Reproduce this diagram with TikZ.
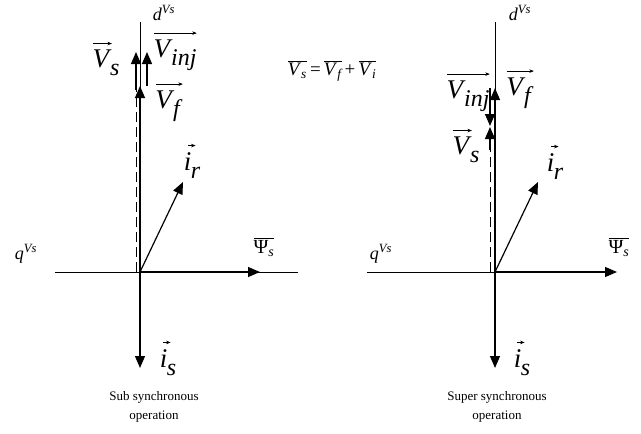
\RequirePackage{fix-cm}
\documentclass[tikz,border=0pt]{standalone}
\usepackage{amsmath}
\usepackage{fontspec}
\setmainfont{Liberation Serif}
\usetikzlibrary{arrows.meta}
\newlength\arrw
\newcommand{\ti}[1]{\textit{#1}}
% arrow over content (text mode)
\newcommand{\ovarr}[2][0pt]{\setbox0\hbox{#2}\setlength\arrw{\wd0}%
  \vbox{\offinterlineskip\hbox to\arrw{\kern#1\rlap{\tikz[x=1pt,y=1pt]\draw[line width=0.6pt,-{Stealth[length=4.5pt,width=3.5pt]}] (0,0)--(\arrw,0);}\hss}\kern5pt\box0}}
\newcommand{\ovline}[1]{\setbox0\hbox{#1}\setlength\arrw{\wd0}%
  \vbox{\offinterlineskip\hbox{\vrule height 0.6pt width \arrw}\kern2pt\box0}}
% large lowered subscript
\newcommand{\sub}[2][-1.5pt]{\kern#1\raisebox{-8pt}{\fontsize{24}{26}\selectfont\ti{#2}}}
\tikzset{
  axis/.style={line width=0.8pt},
  vec/.style={line width=1.2pt,-{Triangle[length=12pt,width=10pt]}},
  dsh/.style={line width=0.8pt,dash pattern=on 10pt off 5pt},
  big/.style={font=\fontsize{27}{29}\selectfont,inner sep=0pt},
  mid/.style={font=\fontsize{20}{22}\selectfont,inner sep=0pt},
  small/.style={font=\fontsize{18}{20}\selectfont,inner sep=0pt},
  captext/.style={font=\fontsize{13}{19}\selectfont,align=center,inner sep=0pt}
}
\begin{document}
\begin{tikzpicture}[x=1pt,y=-1pt]
\useasboundingbox (0,0) rectangle (641,434);
% ---------- left diagram ----------
\coordinate (O1) at (140,272);
\coordinate (dT1) at (140,22);
\coordinate (qL1) at (55,272);
\coordinate (qR1) at (298,272);
\coordinate (Ps1) at (260,272);
\coordinate (Is1) at (140,368);
\coordinate (Ir1) at (183,182);
\coordinate (Vf1) at (140,86);
\coordinate (Vi1a) at (147,86);
\coordinate (Vi1b) at (147,52);
\coordinate (Vs1a) at (136,272);
\coordinate (Vs1m) at (136,90);
\coordinate (Vs1b) at (136,52);
\draw[axis] (qL1) -- (qR1);
\draw[axis] (O1) -- (dT1);
\draw[dsh] (Vs1a) -- (Vs1m);
\draw[vec] (Vs1m) -- (Vs1b);
\draw[vec] (O1) -- (Vf1);
\draw[vec] (Vi1a) -- (Vi1b);
\draw[vec] (O1) -- (Ps1);
\draw[vec] (O1) -- (Ir1);
\draw[vec] (O1) -- (Is1);
\node[small] (d1) at (164,13) {\ti{d}$^{\ti{Vs}}$};
\node[small] (q1) at (26,254) {\ti{q}$^{\ti{Vs}}$};
\node[big] (lVs1) at (106,59) {\ovarr{\ti{V}}\sub{s}};
\node[big] (lVi1) at (175,51) {\ovarr{\ti{V}\sub{inj}}};
\node[big] (lVf1) at (169,102) {\ovarr{\ti{V}\sub{f}}};
\node[big] (lIr1) at (192,161) {\ovarr[4pt]{\ti{i}}\sub[-0.5pt]{r}};
\node[mid] (lPs1) at (264,247) {\ovline{Ψ$_{\ti{s}}$}};
\node[big] (lIs1) at (168,358) {\ovarr[3pt]{\ti{i}}\sub[-0.5pt]{s}};
\node[captext] (t1) at (154,407) {Sub synchronous\\operation};
% ---------- formula ----------
\node[font=\fontsize{19}{20}\selectfont,inner sep=0pt] (eq) at (332,71)
  {\ovline{\ti{V}$_{\ti{s}}$}\,=\,\ovline{\ti{V}$_{\ti{f}}$}\,+\,\ovline{\ti{V}$_{\ti{i}}$}};
% ---------- right diagram ----------
\coordinate (O2) at (495,272);
\coordinate (dT2) at (495,22);
\coordinate (qL2) at (367,272);
\coordinate (Ps2) at (617,272);
\coordinate (Is2) at (495,368);
\coordinate (Ir2) at (538,182);
\coordinate (Vf2) at (495,88);
\coordinate (Vi2a) at (490,88);
\coordinate (Vi2b) at (490,126);
\coordinate (Vs2a) at (490,272);
\coordinate (Vs2m) at (490,150);
\coordinate (Vs2b) at (490,127);
\draw[axis] (qL2) -- (O2);
\draw[axis] (O2) -- (dT2);
\draw[dsh] (Vs2a) -- (Vs2m);
\draw[vec] (Vs2m) -- (Vs2b);
\draw[vec] (O2) -- (Vf2);
\draw[vec] (Vi2a) -- (Vi2b);
\draw[vec] (O2) -- (Ps2);
\draw[vec] (O2) -- (Ir2);
\draw[vec] (O2) -- (Is2);
\node[small] (d2) at (520,13) {\ti{d}$^{\ti{Vs}}$};
\node[small] (q2) at (381,254) {\ti{q}$^{\ti{Vs}}$};
\node[big] (lVi2) at (468,92) {\ovarr{\ti{V}\sub{inj}}};
\node[big] (lVf2) at (520,89) {\ovarr{\ti{V}\sub{f}}};
\node[big] (lVs2) at (466,146) {\ovarr{\ti{V}}\sub{s}};
\node[big] (lIr2) at (555,162) {\ovarr[4pt]{\ti{i}}\sub[-0.5pt]{r}};
\node[mid] (lPs2) at (619,247) {\ovline{Ψ$_{\ti{s}}$}};
\node[big] (lIs2) at (522,358) {\ovarr[3pt]{\ti{i}}\sub[-0.5pt]{s}};
\node[captext] (t2) at (497,407) {Super synchronous\\operation};
\end{tikzpicture}
\end{document}
